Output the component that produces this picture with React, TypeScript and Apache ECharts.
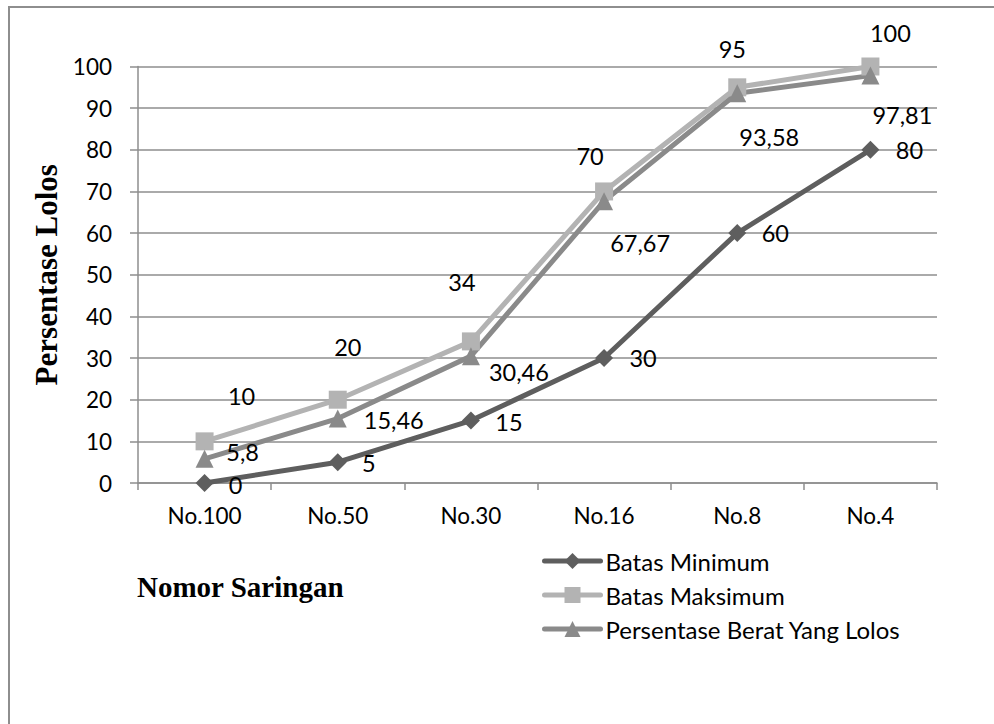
import React, { useEffect, useRef } from "react";
import * as echarts from "echarts";

const categories = ["No.100", "No.50", "No.30", "No.16", "No.8", "No.4"];
const batasMinimum = [0, 5, 15, 30, 60, 80];
const batasMaksimum = [10, 20, 34, 70, 95, 100];
const persentaseLolos = [5.8, 15.46, 30.46, 67.67, 93.58, 97.81];
const yTicks = { min: 0, max: 100, interval: 10 };

// label offsets (pixels, relative to the point) — styling only
const minOffsets = [[31, 2], [31, 1], [38, 1], [39, 0], [38, 0], [39, 0]];
const maxOffsets = [[37, -45], [10, -53], [-9, -59], [-14, -35], [-5, -38], [20, -34]];
const passOffsets = [[38, -7], [56, 1], [48, 16], [36, 42], [32, 44], [32, 39]];

const FONT = "Lato";
const fmt = (v: number) => String(v).replace(".", ",");

function mkData(values: number[], offsets: number[][]) {
  return values.map((v, i) => ({
    value: v,
    label: { offset: offsets[i] },
  }));
}

export default function App() {
  const ref = useRef<HTMLDivElement>(null);
  useEffect(() => {
    if (!ref.current) return;
    const chart = echarts.init(ref.current, undefined, { renderer: "svg" });
    const labelBase = {
      show: true,
      position: "inside",
      color: "#000",
      fontFamily: FONT,
      fontSize: 23.5,
      formatter: (p: any) => fmt(p.value),
    };
    const mkSeries = (name: string, values: number[], offsets: number[][], color: string, symbol: string, size: number) => ({
      name,
      type: "line",
      data: mkData(values, offsets),
      symbol,
      symbolSize: size,
      lineStyle: { color, width: 5 },
      itemStyle: { color },
      label: { ...labelBase },
      emphasis: { disabled: true },
    });
    chart.setOption({
      animation: false,
      backgroundColor: "#fff",
      grid: { left: 138, right: 57, top: 66.5, bottom: 241, containLabel: false },
      xAxis: {
        type: "category",
        data: categories,
        boundaryGap: true,
        axisLine: { show: true, lineStyle: { color: "#8e8e8e", width: 1.5 } },
        axisTick: { show: true, length: 7, lineStyle: { color: "#8e8e8e", width: 1.5 } },
        axisLabel: { color: "#000", fontFamily: FONT, fontSize: 22.5, margin: 21 },
        splitLine: { show: false },
      },
      yAxis: {
        type: "value",
        min: yTicks.min,
        max: yTicks.max,
        interval: yTicks.interval,
        name: "Persentase Lolos",
        nameLocation: "middle",
        nameRotate: 90,
        nameGap: 74,
        nameTextStyle: { fontFamily: "Liberation Serif", fontWeight: "bold", fontSize: 31, color: "#000" },
        axisLine: { show: true, lineStyle: { color: "#8e8e8e", width: 1.5 } },
        axisTick: { show: true, length: 8, lineStyle: { color: "#8e8e8e", width: 1.5 } },
        axisLabel: { color: "#000", fontFamily: FONT, fontSize: 22.5, margin: 26 },
        splitLine: { show: true, lineStyle: { color: "#8e8e8e", width: 1.5 } },
      },
      legend: {
        orient: "vertical",
        left: 542,
        top: 549,
        padding: 0,
        itemWidth: 56,
        itemHeight: 20,
        itemGap: 10,
        lineStyle: { width: 5, cap: "round" },
        textStyle: { color: "#000", fontFamily: FONT, fontSize: 24, lineHeight: 24 },
        data: ["Batas Minimum", "Batas Maksimum", "Persentase Berat Yang Lolos"],
      },
      graphic: [
        {
          type: "rect",
          shape: { x: 9, y: 7, width: 1000, height: 800 },
          style: { fill: "none", stroke: "#8e8e8e", lineWidth: 2 },
          silent: true,
        },
        {
          type: "text",
          x: 137,
          y: 587,
          style: {
            text: "Nomor Saringan",
            fontFamily: "Liberation Serif",
            fontWeight: "bold",
            fontSize: 29,
            fill: "#000",
            verticalAlign: "middle",
          },
        },
      ],
      series: [
        mkSeries("Batas Minimum", batasMinimum, minOffsets, "#5e5e5e", "diamond", 18),
        mkSeries("Batas Maksimum", batasMaksimum, maxOffsets, "#b3b3b3", "rect", 18),
        mkSeries("Persentase Berat Yang Lolos", persentaseLolos, passOffsets, "#8a8a8a", "triangle", 18),
      ],
    });
    return () => chart.dispose();
  }, []);
  return (
    <div
      ref={ref}
      style={{ position: "fixed", left: 0, top: 0, width: 994, height: 724, background: "#fff" }}
    />
  );
}
